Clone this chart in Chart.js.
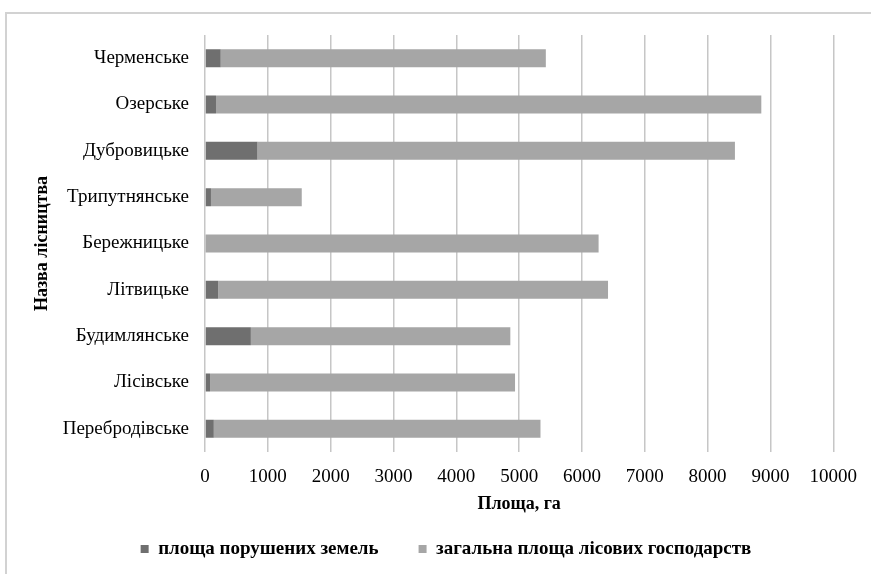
<!DOCTYPE html>
<html>
<head>
  <meta charset="UTF-8">
  <title>Площа порушених земель</title>
  <script src="https://cdn.jsdelivr.net/npm/chart.js"></script>
  <style>
    body { margin: 0; background: #fff; }
    #box { position: relative; width: 871px; height: 574px; overflow: hidden; }
    /* рамка як у вихідному рисунку (лише верх і ліво видно) */
    #frame { position: absolute; left: 5px; top: 12px; right: -10px; bottom: -10px;
             border-top: 2px solid #d2d2d2; border-left: 2px solid #d2d2d2; }
    #chart { position: absolute; left: 0; top: 0; }
  </style>
</head>
<body>
  <div id="box">
    <div id="frame"></div>
    <canvas id="chart" width="871" height="574"></canvas>
  </div>
  <script>
    // назви лісництв (зверху вниз)
    const lisnytstva = ['Черменське', 'Озерське', 'Дубровицьке', 'Трипутнянське', 'Бережницьке',
                        'Літвицьке', 'Будимлянське', 'Лісівське', 'Перебродівське'];
    // площа порушених земель, га
    const porusheni = [250, 175, 835, 95, 15, 210, 730, 80, 140];
    // загальна площа лісових господарств, га (друга частина стовпця)
    const zagalna = [5175, 8680, 7600, 1445, 6250, 6205, 4130, 4855, 5200];
    const xTicks = [0, 1000, 2000, 3000, 4000, 5000, 6000, 7000, 8000, 9000, 10000];

    const serif = "'Liberation Serif', 'Times New Roman', serif";

    new Chart(document.getElementById('chart'), {
      type: 'bar',
      data: {
        labels: lisnytstva,
        datasets: [
          { label: 'площа порушених земель', data: porusheni, backgroundColor: '#6f6f6f',
            barPercentage: 0.39, categoryPercentage: 1 },
          { label: 'загальна площа лісових господарств', data: zagalna, backgroundColor: '#a6a6a6',
            barPercentage: 0.39, categoryPercentage: 1 }
        ]
      },
      options: {
        indexAxis: 'y',
        responsive: false,
        animation: false,
        // ліве поле більше, щоб легенда стала по центру як в оригіналі
        layout: { padding: { left: 56, right: 35, top: 35, bottom: 5.5 } },
        plugins: {
          tooltip: { enabled: false },
          legend: {
            position: 'bottom',
            labels: {
              color: '#000',
              font: { family: serif, size: 19, weight: 'bold' },
              boxWidth: 8, boxHeight: 8, padding: 40
            }
          }
        },
        scales: {
          x: {
            stacked: true,
            min: 0, max: 10000,
            afterBuildTicks: (s) => { s.ticks = xTicks.map(v => ({ value: v })); },
            afterFit: (s) => { s.height = 47.5; },
            grid: { color: '#c6c6c6', lineWidth: 1.5, drawTicks: false },
            border: { display: false },
            ticks: { color: '#000', padding: 14, font: { family: serif, size: 19 },
                     callback: (v) => String(v) },
            title: { display: true, text: 'Площа, га', color: '#000',
                     font: { family: serif, size: 18, weight: 'bold' },
                     padding: { top: 0, bottom: -16 } }
          },
          y: {
            stacked: true,
            afterFit: (s) => { s.width = 149; },
            grid: { display: false, drawTicks: false },
            border: { display: false },
            ticks: { color: '#000', padding: 16, font: { family: serif, size: 19 } },
            title: { display: true, text: 'Назва лісництва', color: '#000',
                     font: { family: serif, size: 18, weight: 'bold' },
                     padding: { top: -24, bottom: 0 } }
          }
        }
      }
    });
  </script>
</body>
</html>
